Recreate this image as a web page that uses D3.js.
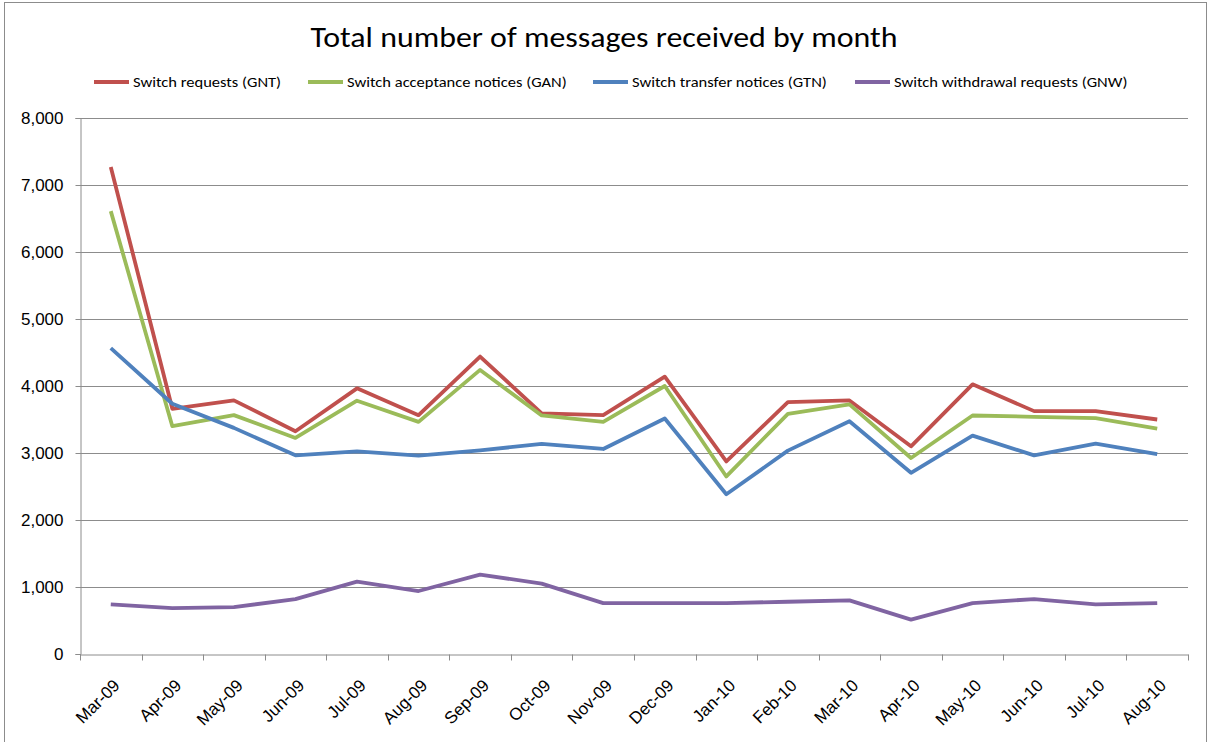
<!DOCTYPE html>
<html>
<head>
<meta charset="utf-8">
<script src="https://cdn.jsdelivr.net/npm/d3@7"></script>
<style>
  body { margin: 0; background: #fff; }
  text { font-family: Carlito, "Liberation Sans Narrow", "Open Sans", sans-serif; fill: #000; }
</style>
</head>
<body>
<div id="chart"></div>
<script>
const months = ["Mar-09", "Apr-09", "May-09", "Jun-09", "Jul-09", "Aug-09", "Sep-09", "Oct-09", "Nov-09",
  "Dec-09", "Jan-10", "Feb-10", "Mar-10", "Apr-10", "May-10", "Jun-10", "Jul-10", "Aug-10"]

const gnt = [7270, 3660, 3785, 3325, 3965, 3565, 4440, 3590, 3565, 4140, 2875, 3760, 3785, 3100, 4025, 3625, 3625, 3500]
const gan = [6610, 3400, 3565, 3225, 3780, 3465, 4240, 3560, 3465, 4000, 2650, 3585, 3725, 2925, 3560, 3540, 3520, 3365]
const gtn = [4565, 3735, 3375, 2965, 3025, 2960, 3040, 3135, 3060, 3515, 2385, 3035, 3475, 2705, 3260, 2965, 3140, 2985]
const gnw = [740, 686, 700, 820, 1080, 940, 1185, 1050, 760, 760, 760, 780, 800, 513, 760, 820, 740, 760]

const seriesNames = ["Switch requests (GNT)", "Switch acceptance notices (GAN)",
  "Switch transfer notices (GTN)", "Switch withdrawal requests (GNW)"]
const seriesValues = [gnt, gan, gtn, gnw]
const colors = ["#C0504D", "#9BBB59", "#4F81BD", "#8064A2"]
const yTicks = [0, 1000, 2000, 3000, 4000, 5000, 6000, 7000, 8000]

const width = 1208
const height = 742
const margin = ({ top: 118, right: 20, bottom: 88, left: 80 })
const stretch = 1.1 // the original's text is a bit wider than Carlito

const svg = d3.select("#chart").append("svg")
  .attr("width", width)
  .attr("height", height)

// outer chart frame
svg.append("rect")
  .attr("x", 4.5).attr("y", 2.5)
  .attr("width", 1202).attr("height", 760)
  .attr("fill", "#fff")
  .attr("stroke", "#8c8c8c")

const x = d3.scaleBand()
  .domain(months)
  .range([margin.left, width - margin.right])

const y = d3.scaleLinear()
  .domain([0, 8000])
  .range([height - margin.bottom, margin.top])

// gridlines
svg.append("g")
  .selectAll("line")
  .data(yTicks.filter(d => d > 0))
  .join("line")
  .attr("x1", margin.left).attr("x2", width - margin.right)
  .attr("y1", d => Math.round(y(d)) + 0.5).attr("y2", d => Math.round(y(d)) + 0.5)
  .attr("stroke", "#8c8c8c")

// y axis
svg.append("g")
  .attr("transform", `translate(${margin.left + 0.5},0)`)
  .call(d3.axisLeft(y).tickValues(yTicks).tickSize(5).tickPadding(12).tickFormat(d3.format(",")))
  .call(g => g.selectAll("line, path").attr("stroke", "#8c8c8c"))
  .call(g => g.selectAll("text").attr("font-size", 17).style("font-family", "inherit"))

// x axis: labels
const xAxis = svg.append("g")
  .attr("transform", `translate(0,${Math.round(y(0)) + 0.5})`)
  .call(d3.axisBottom(x).tickSize(0).tickSizeOuter(0))
  .call(g => g.select(".domain").attr("stroke", "#8c8c8c"))

xAxis.selectAll(".tick text")
  .attr("font-size", 17)
  .style("font-family", "inherit")
  .attr("text-anchor", "end")
  .attr("y", 0)
  .attr("dy", 0)
  .attr("transform", "translate(10,32) rotate(-45)")

// x axis: tick marks at category boundaries
xAxis.append("g")
  .selectAll("line")
  .data(months.map(m => x(m)).concat([x.range()[1]]))
  .join("line")
  .attr("x1", d => Math.round(d) + 0.5).attr("x2", d => Math.round(d) + 0.5)
  .attr("y1", 0).attr("y2", 6)
  .attr("stroke", "#8c8c8c")

// lines
const line = d3.line()
  .x((d, i) => x(months[i]) + x.bandwidth() / 2)
  .y(d => y(d))

svg.append("g")
  .selectAll("path")
  .data(seriesValues)
  .join("path")
  .attr("fill", "none")
  .attr("stroke", (d, i) => colors[i])
  .attr("stroke-width", 3.8)
  .attr("stroke-linejoin", "round")
  .attr("d", line)

// title
const title = svg.append("text")
  .attr("x", 604)
  .attr("y", 47)
  .attr("text-anchor", "middle")
  .attr("font-size", 29)
  .text("Total number of messages received by month")

// legend
const legendX = [94, 308, 593, 855]
const legend = svg.append("g")
  .selectAll("g")
  .data(seriesNames)
  .join("g")
  .attr("transform", (d, i) => `translate(${legendX[i]},82)`)

legend.append("line")
  .attr("x1", 0).attr("x2", 35)
  .attr("stroke", (d, i) => colors[i])
  .attr("stroke-width", 4)

const legendText = legend.append("text")
  .attr("x", 39)
  .attr("dy", "0.35em")
  .attr("font-size", 15)
  .text(d => d)

// widen title and legend text a little
title.attr("textLength", title.node().getComputedTextLength() * stretch)
  .attr("lengthAdjust", "spacingAndGlyphs")
legendText.each(function () {
  d3.select(this)
    .attr("textLength", this.getComputedTextLength() * stretch)
    .attr("lengthAdjust", "spacingAndGlyphs")
})
</script>
</body>
</html>
